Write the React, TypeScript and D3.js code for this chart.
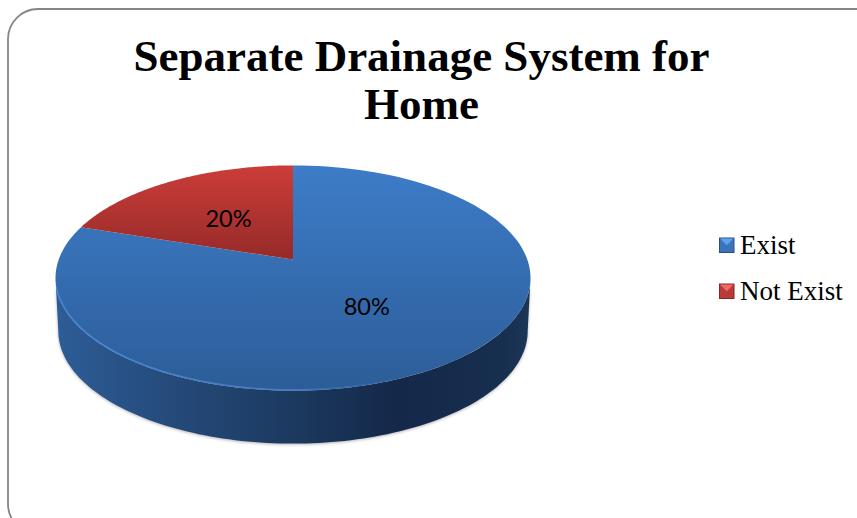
import React from "react";
import * as d3 from "d3";

const categories = ["Exist", "Not Exist"];
const values = [80, 20];
const labels = ["80%", "20%"];
const titleLines = ["Separate Drainage System for", "Home"];

const pie = d3.pie<number>().sort(null)(values);

// perspective projection of the unit disc
const K = 0.1644, A = -66.9, B = 259.5, D = 234.3, CX = 293;
const top = (a: number, r = 1): [number, number] => {
  const u = r * Math.sin(a), v = r * Math.cos(a), w = 1 + K * v;
  return [CX + (D * u) / w, (A * v + B) / w];
};
const bottom = (a: number): [number, number] => {
  const [x, y] = top(a);
  return [CX + (x - CX) * 0.988, y + 53];
};
const line = d3.line<[number, number]>();
const samples = (a0: number, a1: number, n = 120) =>
  d3.range(n + 1).map((i) => a0 + ((a1 - a0) * i) / n);

const frontA0 = Math.acos(-K);
const frontA1 = 2 * Math.PI - frontA0;
const wallPath =
  line([
    ...samples(frontA0, frontA1).map((a) => top(a)),
    ...samples(frontA1, frontA0).map((a) => bottom(a)),
  ]) + "Z";

const slicePath = (a0: number, a1: number) =>
  line([top(0, 0), ...samples(a0, a1).map((a) => top(a))]) + "Z";

const colorsId = ["blueTop", "redTop"];
const legendY = [245, 291];
const legendFill = ["#3a74ba", "#b93a37"];
const legendLight = ["#5ea2e8", "#ee6b68"];
const legendDark = ["#254f85", "#842523"];

export default function App() {
  return (
    <svg
      width={857}
      height={518}
      style={{ position: "absolute", left: 0, top: 0, display: "block", background: "#fff" }}
    >
      <defs>
        <linearGradient id="blueTop" gradientUnits="userSpaceOnUse" x1="0" y1="165" x2="0" y2="390">
          <stop offset="0" stopColor="#3d7cc8" />
          <stop offset="1" stopColor="#2c5d98" />
        </linearGradient>
        <linearGradient id="redTop" gradientUnits="userSpaceOnUse" x1="0" y1="165" x2="0" y2="260">
          <stop offset="0" stopColor="#cc3d39" />
          <stop offset="1" stopColor="#952a28" />
        </linearGradient>
        <linearGradient id="wall" gradientUnits="userSpaceOnUse" x1="55" y1="0" x2="530" y2="0">
          <stop offset="0" stopColor="#2d5d97" />
          <stop offset="0.18" stopColor="#274f82" />
          <stop offset="0.49" stopColor="#1c3a60" />
          <stop offset="0.72" stopColor="#14284a" />
          <stop offset="0.94" stopColor="#172f4f" />
          <stop offset="1" stopColor="#1b3658" />
        </linearGradient>
        <linearGradient id="bevel" gradientUnits="userSpaceOnUse" x1="55" y1="0" x2="530" y2="0">
          <stop offset="0" stopColor="#4a86cf" stopOpacity="0.95" />
          <stop offset="0.5" stopColor="#4a86cf" stopOpacity="0.7" />
          <stop offset="0.8" stopColor="#2c5d98" stopOpacity="0" />
        </linearGradient>
        <filter id="soft" x="-5%" y="-5%" width="110%" height="110%">
          <feGaussianBlur stdDeviation="1.6" />
        </filter>
      </defs>
      <rect x={8} y={9} width={880} height={525} rx={30} fill="#fff" stroke="#868686" strokeWidth={1.8} />
      {titleLines.map((t, i) => (
        <text
          key={t}
          x={421.5}
          y={i === 0 ? 70.5 : 119}
          textAnchor="middle"
          fontFamily="'Liberation Serif', serif"
          fontWeight="bold"
          fontSize={45}
          fill="#000"
        >
          {t}
        </text>
      ))}
      <path d={wallPath} fill="#777" opacity={0.55} filter="url(#soft)" transform="translate(0,1)" />
      <path d={wallPath} fill="url(#wall)" />
      {pie.map((p, i) => (
        <path
          key={categories[i]}
          d={slicePath(p.startAngle, p.endAngle)}
          fill={`url(#${colorsId[i]})`}
        />
      ))}
      <path
        d={line(samples(frontA0, frontA1 - 0.1).map((a) => top(a)).map(([x, y]) => [x, y - 0.8] as [number, number]))!}
        fill="none"
        stroke="url(#bevel)"
        strokeWidth={1.6}
      />
      {pie.map((p, i) => {
        const [x, y] = top((p.startAngle + p.endAngle) / 2, 0.5);
        return (
          <text
            key={labels[i]}
            x={x}
            y={y + 8.5 + (i === 1 ? 1 : 0)}
            textAnchor="middle"
            fontFamily="Lato, 'Open Sans', sans-serif"
            fontSize={23.5}
            fill="#000"
          >
            {labels[i]}
          </text>
        );
      })}
      {categories.map((c, i) => {
        const y = legendY[i];
        const x0 = 719, s = 15.5, t0 = y - 7.5;
        return (
          <g key={c}>
            <rect x={x0} y={t0} width={s} height={s} fill={legendDark[i]} />
            <rect x={x0 + 1} y={t0 + 1} width={s - 2} height={s - 2} fill={legendFill[i]} />
            <polygon
              points={`${x0 + 1},${t0 + 1} ${x0 + s - 1},${t0 + 1} ${x0 + s / 2},${t0 + s / 2}`}
              fill={legendLight[i]}
            />
            <text
              x={740}
              y={y + 9}
              fontFamily="'Liberation Serif', serif"
              fontSize={27}
              fill="#000"
            >
              {c}
            </text>
          </g>
        );
      })}
    </svg>
  );
}
